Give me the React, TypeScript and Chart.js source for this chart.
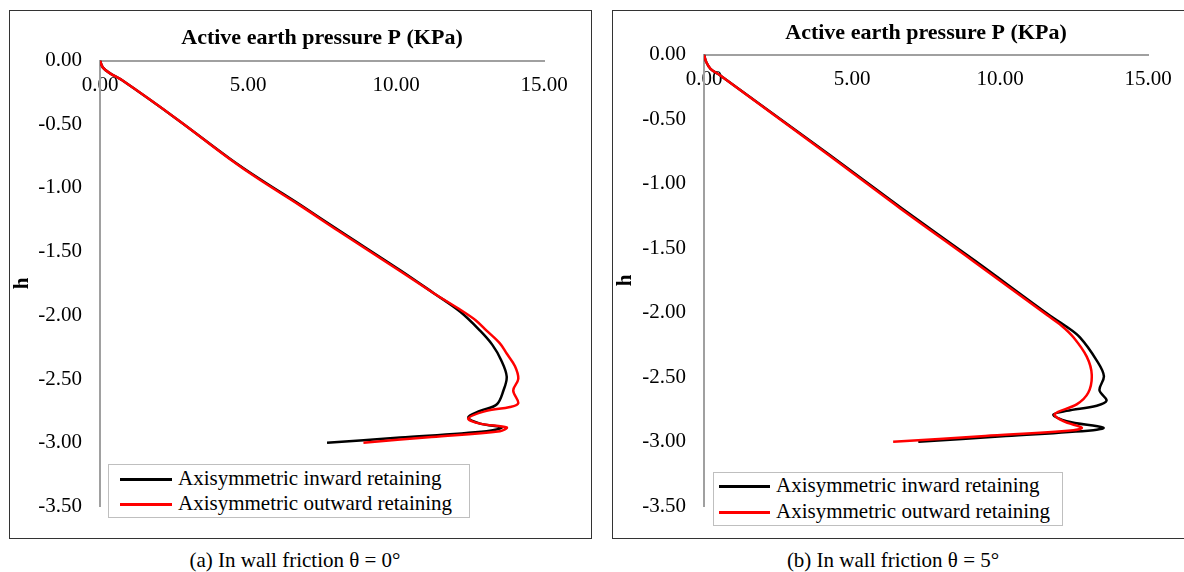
import React, { useEffect, useRef } from "react";
import { Chart, registerables } from "chart.js";

Chart.register(...registerables);

// ---------- data ----------
const seriesNames = ["Axisymmetric inward retaining", "Axisymmetric outward retaining"];
const seriesColors = ["#000000", "#ff0000"];
const xTitle = "Active earth pressure P (KPa)";
const yTitle = "h";
const captions = ["(a) In wall friction θ = 0°", "(b) In wall friction θ = 5°"];
const xMin = 0;
const xMax = 15;
const xStep = 5;
const yMin = -3.5;
const yMax = 0;
const yStep = 0.5;

// Panel (a) θ = 0°
const pInwardA = [0, 0.1, 0.34, 0.75, 2.6, 4.39, 5.4, 6.78, 8.12, 10.17, 11.3, 12.16, 12.84, 13.25, 13.55, 13.74, 13.63, 13.4, 12.84, 12.44, 12.84, 13.57, 13.06, 10.14, 7.67];
const hInwardA = [0, -0.055, -0.1, -0.155, -0.46, -0.77, -0.93, -1.135, -1.34, -1.65, -1.83, -1.97, -2.12, -2.23, -2.35, -2.48, -2.59, -2.7, -2.75, -2.8, -2.85, -2.88, -2.91, -2.96, -3.0];
const pOutwardA = [0, 0.1, 0.34, 0.75, 2.6, 4.37, 5.36, 6.74, 8.07, 10.12, 11.3, 12.2, 12.7, 13.06, 13.51, 13.74, 14.02, 14.13, 13.96, 14.13, 13.85, 13.06, 12.44, 12.84, 13.74, 13.51, 11.2, 8.9];
const hOutwardA = [0, -0.055, -0.1, -0.155, -0.46, -0.77, -0.93, -1.135, -1.34, -1.65, -1.83, -1.96, -2.04, -2.12, -2.22, -2.3, -2.4, -2.5, -2.59, -2.69, -2.72, -2.75, -2.81, -2.85, -2.88, -2.91, -2.955, -3.0];

// Panel (b) θ = 5°
const pInwardB = [0, 0.08, 0.22, 0.54, 2.4, 4.26, 6.68, 9.17, 11.67, 12.2, 12.7, 13.27, 13.51, 13.36, 13.6, 13.27, 12.25, 11.8, 12.25, 13.49, 13.15, 10.2, 7.24];
const hInwardB = [0, -0.06, -0.11, -0.16, -0.47, -0.78, -1.19, -1.6, -2.02, -2.1, -2.19, -2.37, -2.49, -2.6, -2.68, -2.72, -2.76, -2.79, -2.84, -2.89, -2.91, -2.955, -3.0];
const pOutwardB = [0, 0.08, 0.22, 0.54, 2.38, 4.22, 6.62, 9.1, 11.6, 12.08, 12.48, 12.93, 13.1, 12.98, 12.59, 11.85, 12.14, 12.76, 12.48, 9.5, 6.39];
const hOutwardB = [0, -0.06, -0.11, -0.16, -0.47, -0.78, -1.19, -1.6, -2.02, -2.1, -2.19, -2.34, -2.48, -2.62, -2.71, -2.785, -2.84, -2.89, -2.91, -2.955, -3.0];

// ---------- layout / style ----------
const FONT = '"Liberation Serif", "Times New Roman", serif';

type Geo = {
  frame: { left: number; top: number; width: number; height: number };
  canvas: { left: number; top: number; width: number; height: number };
  yAxisWidth: number;
  padRight: number;
  padBottom: number;
  padTop: number;
  titlePadBottom: number;
  legend: { left: number; top: number; width: number; height: number; rows: number[]; lineX0: number; lineX1: number; textX: number };
  caption: { cx: number; cy: number };
};

const geoA: Geo = {
  frame: { left: 9, top: 10, width: 583, height: 529 },
  canvas: { left: 10, top: 11, width: 580, height: 526 },
  yAxisWidth: 90,
  padRight: 46,
  padBottom: 26,
  padTop: 13.8,
  titlePadBottom: 9.4,
  legend: { left: 108, top: 464, width: 362, height: 54, rows: [479, 504], lineX0: 120, lineX1: 172, textX: 178 },
  caption: { cx: 295, cy: 560 },
};

const geoB: Geo = {
  frame: { left: 612, top: 10, width: 590, height: 529 },
  canvas: { left: 613, top: 11, width: 571, height: 526 },
  yAxisWidth: 91,
  padRight: 36,
  padBottom: 21,
  padTop: 9.3,
  titlePadBottom: 7.9,
  legend: { left: 713, top: 472, width: 350, height: 54, rows: [486, 512], lineX0: 719, lineX1: 770, textX: 776 },
  caption: { cx: 893, cy: 560 },
};

function pts(p: number[], h: number[]) {
  return p.map((v, i) => ({ x: v, y: h[i] }));
}

function Panel(props: { pIn: number[]; hIn: number[]; pOut: number[]; hOut: number[]; geo: Geo; caption: string }) {
  const ref = useRef<HTMLCanvasElement | null>(null);
  const { geo } = props;

  useEffect(() => {
    if (!ref.current) return;
    const tickFont = { family: FONT, size: 21 };
    const chart = new Chart(ref.current, {
      type: "scatter",
      data: {
        datasets: [
          {
            label: seriesNames[0],
            data: pts(props.pIn, props.hIn),
            showLine: true,
            borderColor: seriesColors[0],
            backgroundColor: seriesColors[0],
            borderWidth: 2.5,
            pointRadius: 0,
            pointHoverRadius: 0,
            tension: 0.35,
            fill: false,
            order: 1,
          },
          {
            label: seriesNames[1],
            data: pts(props.pOut, props.hOut),
            showLine: true,
            borderColor: seriesColors[1],
            backgroundColor: seriesColors[1],
            borderWidth: 2.5,
            pointRadius: 0,
            pointHoverRadius: 0,
            tension: 0.35,
            fill: false,
            order: 0,
          },
        ],
      },
      options: {
        responsive: false,
        maintainAspectRatio: false,
        animation: false,
        events: [],
        layout: { padding: { left: 0, right: geo.padRight, top: geo.padTop, bottom: geo.padBottom } },
        plugins: {
          legend: { display: false },
          tooltip: { enabled: false },
          title: {
            display: true,
            text: xTitle,
            fullSize: false,
            color: "#000",
            font: { family: FONT, size: 22, weight: "bold" },
            padding: { top: 0, bottom: geo.titlePadBottom },
          },
        },
        scales: {
          x: {
            type: "linear",
            position: { y: 0 } as any,
            min: xMin,
            max: xMax,
            grid: { display: false, drawTicks: false },
            border: { display: true, color: "#a0a0a0", width: 2 },
            ticks: {
              stepSize: xStep,
              padding: 12,
              color: "#000",
              font: tickFont,
              maxRotation: 0,
              autoSkip: false,
              callback: (v: any) => Number(v).toFixed(2),
            },
          },
          y: {
            type: "linear",
            position: "left",
            min: yMin,
            max: yMax,
            grid: { display: false, drawTicks: false },
            border: { display: true, color: "#a0a0a0", width: 2 },
            ticks: {
              stepSize: yStep,
              padding: 18,
              color: "#000",
              font: tickFont,
              autoSkip: false,
              callback: (v: any) => Number(v).toFixed(2),
            },
            title: {
              display: true,
              text: yTitle,
              color: "#000",
              font: { family: FONT, size: 21, weight: "bold" },
              padding: 0,
            },
            afterFit: (s: any) => {
              s.width = geo.yAxisWidth;
            },
          },
        },
      } as any,
    });
    return () => chart.destroy();
  }, []);

  const lg = geo.legend;
  return (
    <>
      <div
        style={{
          position: "absolute",
          left: geo.frame.left,
          top: geo.frame.top,
          width: geo.frame.width,
          height: geo.frame.height,
          border: "1px solid #333",
          boxSizing: "border-box",
        }}
      />
      <canvas
        ref={ref}
        width={geo.canvas.width}
        height={geo.canvas.height}
        style={{ position: "absolute", left: geo.canvas.left, top: geo.canvas.top, width: geo.canvas.width, height: geo.canvas.height }}
      />
      <div
        style={{
          position: "absolute",
          left: lg.left,
          top: lg.top,
          width: lg.width,
          height: lg.height,
          border: "1px solid #bfbfbf",
          boxSizing: "border-box",
          background: "#fff",
        }}
      />
      {seriesNames.map((name, i) => (
        <React.Fragment key={name}>
          <div
            style={{
              position: "absolute",
              left: lg.lineX0,
              top: lg.rows[i] - 1.5,
              width: lg.lineX1 - lg.lineX0,
              height: 3,
              background: seriesColors[i],
            }}
          />
          <div
            style={{
              position: "absolute",
              left: lg.textX,
              top: lg.rows[i] - 13,
              height: 24,
              lineHeight: "24px",
              fontSize: 21,
              fontFamily: FONT,
              color: "#000",
              whiteSpace: "nowrap",
            }}
          >
            {name}
          </div>
        </React.Fragment>
      ))}
      <div
        style={{
          position: "absolute",
          left: geo.caption.cx - 200,
          width: 400,
          top: geo.caption.cy - 13,
          height: 26,
          lineHeight: "26px",
          textAlign: "center",
          fontSize: 21,
          fontFamily: FONT,
          color: "#000",
          whiteSpace: "nowrap",
        }}
      >
        {props.caption}
      </div>
    </>
  );
}

export default function App() {
  return (
    <div
      style={{
        position: "absolute",
        left: 0,
        top: 0,
        width: 1184,
        height: 572,
        overflow: "hidden",
        background: "#fff",
      }}
    >
      <Panel pIn={pInwardA} hIn={hInwardA} pOut={pOutwardA} hOut={hOutwardA} geo={geoA} caption={captions[0]} />
      <Panel pIn={pInwardB} hIn={hInwardB} pOut={pOutwardB} hOut={hOutwardB} geo={geoB} caption={captions[1]} />
    </div>
  );
}
